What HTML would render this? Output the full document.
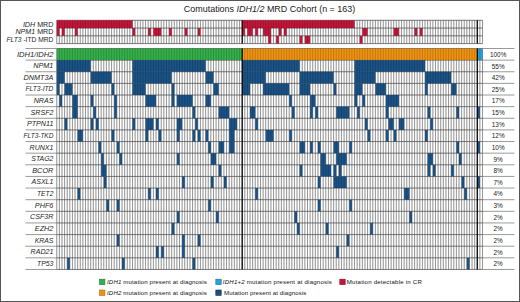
<!DOCTYPE html>
<html><head><meta charset="utf-8"><style>
html,body{margin:0;padding:0;background:#fff;}
body{width:520px;height:302px;overflow:hidden;}
svg{display:block;font-family:"Liberation Sans",sans-serif;}
</style></head><body>
<svg width="520" height="302" viewBox="0 0 520 302">
<rect x="0" y="0" width="520" height="302" fill="#fff"/>
<path d="M56.750 20.300V43.610M56.750 48.500V269.470M59.362 20.300V43.610M59.362 48.500V269.470M61.974 20.300V43.610M61.974 48.500V269.470M64.586 20.300V43.610M64.586 48.500V269.470M67.198 20.300V43.610M67.198 48.500V269.470M69.810 20.300V43.610M69.810 48.500V269.470M72.422 20.300V43.610M72.422 48.500V269.470M75.034 20.300V43.610M75.034 48.500V269.470M77.646 20.300V43.610M77.646 48.500V269.470M80.258 20.300V43.610M80.258 48.500V269.470M82.870 20.300V43.610M82.870 48.500V269.470M85.482 20.300V43.610M85.482 48.500V269.470M88.094 20.300V43.610M88.094 48.500V269.470M90.706 20.300V43.610M90.706 48.500V269.470M93.318 20.300V43.610M93.318 48.500V269.470M95.930 20.300V43.610M95.930 48.500V269.470M98.542 20.300V43.610M98.542 48.500V269.470M101.154 20.300V43.610M101.154 48.500V269.470M103.766 20.300V43.610M103.766 48.500V269.470M106.378 20.300V43.610M106.378 48.500V269.470M108.990 20.300V43.610M108.990 48.500V269.470M111.602 20.300V43.610M111.602 48.500V269.470M114.214 20.300V43.610M114.214 48.500V269.470M116.826 20.300V43.610M116.826 48.500V269.470M119.438 20.300V43.610M119.438 48.500V269.470M122.050 20.300V43.610M122.050 48.500V269.470M124.662 20.300V43.610M124.662 48.500V269.470M127.274 20.300V43.610M127.274 48.500V269.470M129.886 20.300V43.610M129.886 48.500V269.470M132.498 20.300V43.610M132.498 48.500V269.470M135.110 20.300V43.610M135.110 48.500V269.470M137.722 20.300V43.610M137.722 48.500V269.470M140.334 20.300V43.610M140.334 48.500V269.470M142.946 20.300V43.610M142.946 48.500V269.470M145.558 20.300V43.610M145.558 48.500V269.470M148.170 20.300V43.610M148.170 48.500V269.470M150.782 20.300V43.610M150.782 48.500V269.470M153.394 20.300V43.610M153.394 48.500V269.470M156.006 20.300V43.610M156.006 48.500V269.470M158.618 20.300V43.610M158.618 48.500V269.470M161.230 20.300V43.610M161.230 48.500V269.470M163.842 20.300V43.610M163.842 48.500V269.470M166.454 20.300V43.610M166.454 48.500V269.470M169.066 20.300V43.610M169.066 48.500V269.470M171.678 20.300V43.610M171.678 48.500V269.470M174.290 20.300V43.610M174.290 48.500V269.470M176.902 20.300V43.610M176.902 48.500V269.470M179.514 20.300V43.610M179.514 48.500V269.470M182.126 20.300V43.610M182.126 48.500V269.470M184.738 20.300V43.610M184.738 48.500V269.470M187.350 20.300V43.610M187.350 48.500V269.470M189.962 20.300V43.610M189.962 48.500V269.470M192.574 20.300V43.610M192.574 48.500V269.470M195.186 20.300V43.610M195.186 48.500V269.470M197.798 20.300V43.610M197.798 48.500V269.470M200.410 20.300V43.610M200.410 48.500V269.470M203.022 20.300V43.610M203.022 48.500V269.470M205.634 20.300V43.610M205.634 48.500V269.470M208.246 20.300V43.610M208.246 48.500V269.470M210.858 20.300V43.610M210.858 48.500V269.470M213.470 20.300V43.610M213.470 48.500V269.470M216.082 20.300V43.610M216.082 48.500V269.470M218.694 20.300V43.610M218.694 48.500V269.470M221.306 20.300V43.610M221.306 48.500V269.470M223.918 20.300V43.610M223.918 48.500V269.470M226.530 20.300V43.610M226.530 48.500V269.470M229.142 20.300V43.610M229.142 48.500V269.470M231.754 20.300V43.610M231.754 48.500V269.470M234.366 20.300V43.610M234.366 48.500V269.470M236.978 20.300V43.610M236.978 48.500V269.470M239.590 20.300V43.610M239.590 48.500V269.470M242.202 20.300V43.610M242.202 48.500V269.470M244.814 20.300V43.610M244.814 48.500V269.470M247.426 20.300V43.610M247.426 48.500V269.470M250.038 20.300V43.610M250.038 48.500V269.470M252.650 20.300V43.610M252.650 48.500V269.470M255.262 20.300V43.610M255.262 48.500V269.470M257.874 20.300V43.610M257.874 48.500V269.470M260.486 20.300V43.610M260.486 48.500V269.470M263.098 20.300V43.610M263.098 48.500V269.470M265.710 20.300V43.610M265.710 48.500V269.470M268.322 20.300V43.610M268.322 48.500V269.470M270.934 20.300V43.610M270.934 48.500V269.470M273.546 20.300V43.610M273.546 48.500V269.470M276.158 20.300V43.610M276.158 48.500V269.470M278.770 20.300V43.610M278.770 48.500V269.470M281.382 20.300V43.610M281.382 48.500V269.470M283.994 20.300V43.610M283.994 48.500V269.470M286.606 20.300V43.610M286.606 48.500V269.470M289.218 20.300V43.610M289.218 48.500V269.470M291.830 20.300V43.610M291.830 48.500V269.470M294.442 20.300V43.610M294.442 48.500V269.470M297.054 20.300V43.610M297.054 48.500V269.470M299.666 20.300V43.610M299.666 48.500V269.470M302.278 20.300V43.610M302.278 48.500V269.470M304.890 20.300V43.610M304.890 48.500V269.470M307.502 20.300V43.610M307.502 48.500V269.470M310.114 20.300V43.610M310.114 48.500V269.470M312.726 20.300V43.610M312.726 48.500V269.470M315.338 20.300V43.610M315.338 48.500V269.470M317.950 20.300V43.610M317.950 48.500V269.470M320.562 20.300V43.610M320.562 48.500V269.470M323.174 20.300V43.610M323.174 48.500V269.470M325.786 20.300V43.610M325.786 48.500V269.470M328.398 20.300V43.610M328.398 48.500V269.470M331.010 20.300V43.610M331.010 48.500V269.470M333.622 20.300V43.610M333.622 48.500V269.470M336.234 20.300V43.610M336.234 48.500V269.470M338.846 20.300V43.610M338.846 48.500V269.470M341.458 20.300V43.610M341.458 48.500V269.470M344.070 20.300V43.610M344.070 48.500V269.470M346.682 20.300V43.610M346.682 48.500V269.470M349.294 20.300V43.610M349.294 48.500V269.470M351.906 20.300V43.610M351.906 48.500V269.470M354.518 20.300V43.610M354.518 48.500V269.470M357.130 20.300V43.610M357.130 48.500V269.470M359.742 20.300V43.610M359.742 48.500V269.470M362.354 20.300V43.610M362.354 48.500V269.470M364.966 20.300V43.610M364.966 48.500V269.470M367.578 20.300V43.610M367.578 48.500V269.470M370.190 20.300V43.610M370.190 48.500V269.470M372.802 20.300V43.610M372.802 48.500V269.470M375.414 20.300V43.610M375.414 48.500V269.470M378.026 20.300V43.610M378.026 48.500V269.470M380.638 20.300V43.610M380.638 48.500V269.470M383.250 20.300V43.610M383.250 48.500V269.470M385.862 20.300V43.610M385.862 48.500V269.470M388.474 20.300V43.610M388.474 48.500V269.470M391.086 20.300V43.610M391.086 48.500V269.470M393.698 20.300V43.610M393.698 48.500V269.470M396.310 20.300V43.610M396.310 48.500V269.470M398.922 20.300V43.610M398.922 48.500V269.470M401.534 20.300V43.610M401.534 48.500V269.470M404.146 20.300V43.610M404.146 48.500V269.470M406.758 20.300V43.610M406.758 48.500V269.470M409.370 20.300V43.610M409.370 48.500V269.470M411.982 20.300V43.610M411.982 48.500V269.470M414.594 20.300V43.610M414.594 48.500V269.470M417.206 20.300V43.610M417.206 48.500V269.470M419.818 20.300V43.610M419.818 48.500V269.470M422.430 20.300V43.610M422.430 48.500V269.470M425.042 20.300V43.610M425.042 48.500V269.470M427.654 20.300V43.610M427.654 48.500V269.470M430.266 20.300V43.610M430.266 48.500V269.470M432.878 20.300V43.610M432.878 48.500V269.470M435.490 20.300V43.610M435.490 48.500V269.470M438.102 20.300V43.610M438.102 48.500V269.470M440.714 20.300V43.610M440.714 48.500V269.470M443.326 20.300V43.610M443.326 48.500V269.470M445.938 20.300V43.610M445.938 48.500V269.470M448.550 20.300V43.610M448.550 48.500V269.470M451.162 20.300V43.610M451.162 48.500V269.470M453.774 20.300V43.610M453.774 48.500V269.470M456.386 20.300V43.610M456.386 48.500V269.470M458.998 20.300V43.610M458.998 48.500V269.470M461.610 20.300V43.610M461.610 48.500V269.470M464.222 20.300V43.610M464.222 48.500V269.470M466.834 20.300V43.610M466.834 48.500V269.470M469.446 20.300V43.610M469.446 48.500V269.470M472.058 20.300V43.610M472.058 48.500V269.470M474.670 20.300V43.610M474.670 48.500V269.470M477.282 20.300V43.610M477.282 48.500V269.470M479.894 20.300V43.610M479.894 48.500V269.470M482.506 20.300V43.610M482.506 48.500V269.470" stroke="#a0a0a0" stroke-width="0.75" fill="none"/>
<path d="M56.750 20.300H482.506M56.750 28.070H482.506M56.750 35.840H482.506M56.750 43.610H482.506M56.750 48.500H482.506M56.750 60.130H482.506M56.750 71.760H482.506M56.750 83.390H482.506M56.750 95.020H482.506M56.750 106.650H482.506M56.750 118.280H482.506M56.750 129.910H482.506M56.750 141.540H482.506M56.750 153.170H482.506M56.750 164.800H482.506M56.750 176.430H482.506M56.750 188.060H482.506M56.750 199.690H482.506M56.750 211.320H482.506M56.750 222.950H482.506M56.750 234.580H482.506M56.750 246.210H482.506M56.750 257.840H482.506M56.750 269.470H482.506" stroke="#727272" stroke-width="0.8" fill="none"/>
<rect x="56.750" y="20.300" width="75.748" height="7.770" fill="#c4163a"/>
<rect x="242.202" y="20.300" width="112.316" height="7.770" fill="#c4163a"/>
<rect x="56.750" y="28.070" width="2.612" height="7.770" fill="#c4163a"/>
<rect x="61.974" y="28.070" width="2.612" height="7.770" fill="#c4163a"/>
<rect x="75.034" y="28.070" width="2.612" height="7.770" fill="#c4163a"/>
<rect x="132.498" y="28.070" width="2.612" height="7.770" fill="#c4163a"/>
<rect x="148.170" y="28.070" width="2.612" height="7.770" fill="#c4163a"/>
<rect x="153.394" y="28.070" width="7.836" height="7.770" fill="#c4163a"/>
<rect x="169.066" y="28.070" width="2.612" height="7.770" fill="#c4163a"/>
<rect x="184.738" y="28.070" width="2.612" height="7.770" fill="#c4163a"/>
<rect x="197.798" y="28.070" width="2.612" height="7.770" fill="#c4163a"/>
<rect x="242.202" y="28.070" width="2.612" height="7.770" fill="#c4163a"/>
<rect x="247.426" y="28.070" width="5.224" height="7.770" fill="#c4163a"/>
<rect x="255.262" y="28.070" width="2.612" height="7.770" fill="#c4163a"/>
<rect x="263.098" y="28.070" width="7.836" height="7.770" fill="#c4163a"/>
<rect x="278.770" y="28.070" width="2.612" height="7.770" fill="#c4163a"/>
<rect x="283.994" y="28.070" width="2.612" height="7.770" fill="#c4163a"/>
<rect x="362.354" y="28.070" width="5.224" height="7.770" fill="#c4163a"/>
<rect x="393.698" y="28.070" width="5.224" height="7.770" fill="#c4163a"/>
<rect x="414.594" y="28.070" width="2.612" height="7.770" fill="#c4163a"/>
<rect x="419.818" y="28.070" width="2.612" height="7.770" fill="#c4163a"/>
<rect x="268.322" y="35.840" width="2.612" height="7.770" fill="#c4163a"/>
<rect x="276.158" y="35.840" width="2.612" height="7.770" fill="#c4163a"/>
<rect x="299.666" y="35.840" width="2.612" height="7.770" fill="#c4163a"/>
<rect x="304.890" y="35.840" width="5.224" height="7.770" fill="#c4163a"/>
<rect x="359.742" y="35.840" width="2.612" height="7.770" fill="#c4163a"/>
<rect x="56.750" y="48.500" width="185.452" height="11.630" fill="#36b04b"/>
<rect x="242.202" y="48.500" width="235.080" height="11.630" fill="#f09313"/>
<rect x="477.282" y="48.500" width="5.224" height="11.630" fill="#2a9fd8"/>
<rect x="56.750" y="60.130" width="33.956" height="11.630" fill="#1b5387"/>
<rect x="132.498" y="60.130" width="73.136" height="11.630" fill="#1b5387"/>
<rect x="242.202" y="60.130" width="57.464" height="11.630" fill="#1b5387"/>
<rect x="354.518" y="60.130" width="70.524" height="11.630" fill="#1b5387"/>
<rect x="56.750" y="71.760" width="7.836" height="11.630" fill="#1b5387"/>
<rect x="90.706" y="71.760" width="20.896" height="11.630" fill="#1b5387"/>
<rect x="132.498" y="71.760" width="39.180" height="11.630" fill="#1b5387"/>
<rect x="205.634" y="71.760" width="7.836" height="11.630" fill="#1b5387"/>
<rect x="242.202" y="71.760" width="23.508" height="11.630" fill="#1b5387"/>
<rect x="299.666" y="71.760" width="33.956" height="11.630" fill="#1b5387"/>
<rect x="354.518" y="71.760" width="20.896" height="11.630" fill="#1b5387"/>
<rect x="425.042" y="71.760" width="26.120" height="11.630" fill="#1b5387"/>
<rect x="56.750" y="83.390" width="2.612" height="11.630" fill="#1b5387"/>
<rect x="64.586" y="83.390" width="7.836" height="11.630" fill="#1b5387"/>
<rect x="111.602" y="83.390" width="2.612" height="11.630" fill="#1b5387"/>
<rect x="132.498" y="83.390" width="13.060" height="11.630" fill="#1b5387"/>
<rect x="171.678" y="83.390" width="2.612" height="11.630" fill="#1b5387"/>
<rect x="213.470" y="83.390" width="5.224" height="11.630" fill="#1b5387"/>
<rect x="242.202" y="83.390" width="7.836" height="11.630" fill="#1b5387"/>
<rect x="263.098" y="83.390" width="26.120" height="11.630" fill="#1b5387"/>
<rect x="299.666" y="83.390" width="10.448" height="11.630" fill="#1b5387"/>
<rect x="333.622" y="83.390" width="2.612" height="11.630" fill="#1b5387"/>
<rect x="354.518" y="83.390" width="7.836" height="11.630" fill="#1b5387"/>
<rect x="375.414" y="83.390" width="10.448" height="11.630" fill="#1b5387"/>
<rect x="425.042" y="83.390" width="2.612" height="11.630" fill="#1b5387"/>
<rect x="451.162" y="83.390" width="5.224" height="11.630" fill="#1b5387"/>
<rect x="59.362" y="95.020" width="2.612" height="11.630" fill="#1b5387"/>
<rect x="72.422" y="95.020" width="5.224" height="11.630" fill="#1b5387"/>
<rect x="90.706" y="95.020" width="2.612" height="11.630" fill="#1b5387"/>
<rect x="114.214" y="95.020" width="2.612" height="11.630" fill="#1b5387"/>
<rect x="145.558" y="95.020" width="10.448" height="11.630" fill="#1b5387"/>
<rect x="171.678" y="95.020" width="2.612" height="11.630" fill="#1b5387"/>
<rect x="176.902" y="95.020" width="15.672" height="11.630" fill="#1b5387"/>
<rect x="205.634" y="95.020" width="5.224" height="11.630" fill="#1b5387"/>
<rect x="289.218" y="95.020" width="2.612" height="11.630" fill="#1b5387"/>
<rect x="310.114" y="95.020" width="5.224" height="11.630" fill="#1b5387"/>
<rect x="354.518" y="95.020" width="2.612" height="11.630" fill="#1b5387"/>
<rect x="362.354" y="95.020" width="2.612" height="11.630" fill="#1b5387"/>
<rect x="385.862" y="95.020" width="13.060" height="11.630" fill="#1b5387"/>
<rect x="72.422" y="106.650" width="5.224" height="11.630" fill="#1b5387"/>
<rect x="93.318" y="106.650" width="2.612" height="11.630" fill="#1b5387"/>
<rect x="114.214" y="106.650" width="2.612" height="11.630" fill="#1b5387"/>
<rect x="192.574" y="106.650" width="2.612" height="11.630" fill="#1b5387"/>
<rect x="218.694" y="106.650" width="10.448" height="11.630" fill="#1b5387"/>
<rect x="250.038" y="106.650" width="5.224" height="11.630" fill="#1b5387"/>
<rect x="291.830" y="106.650" width="2.612" height="11.630" fill="#1b5387"/>
<rect x="310.114" y="106.650" width="2.612" height="11.630" fill="#1b5387"/>
<rect x="315.338" y="106.650" width="2.612" height="11.630" fill="#1b5387"/>
<rect x="336.234" y="106.650" width="13.060" height="11.630" fill="#1b5387"/>
<rect x="357.130" y="106.650" width="2.612" height="11.630" fill="#1b5387"/>
<rect x="385.862" y="106.650" width="2.612" height="11.630" fill="#1b5387"/>
<rect x="427.654" y="106.650" width="2.612" height="11.630" fill="#1b5387"/>
<rect x="456.386" y="106.650" width="2.612" height="11.630" fill="#1b5387"/>
<rect x="477.282" y="106.650" width="2.612" height="11.630" fill="#1b5387"/>
<rect x="64.586" y="118.280" width="2.612" height="11.630" fill="#1b5387"/>
<rect x="90.706" y="118.280" width="2.612" height="11.630" fill="#1b5387"/>
<rect x="95.930" y="118.280" width="2.612" height="11.630" fill="#1b5387"/>
<rect x="132.498" y="118.280" width="2.612" height="11.630" fill="#1b5387"/>
<rect x="145.558" y="118.280" width="7.836" height="11.630" fill="#1b5387"/>
<rect x="156.006" y="118.280" width="2.612" height="11.630" fill="#1b5387"/>
<rect x="176.902" y="118.280" width="5.224" height="11.630" fill="#1b5387"/>
<rect x="195.186" y="118.280" width="2.612" height="11.630" fill="#1b5387"/>
<rect x="229.142" y="118.280" width="7.836" height="11.630" fill="#1b5387"/>
<rect x="255.262" y="118.280" width="2.612" height="11.630" fill="#1b5387"/>
<rect x="364.966" y="118.280" width="2.612" height="11.630" fill="#1b5387"/>
<rect x="388.474" y="118.280" width="5.224" height="11.630" fill="#1b5387"/>
<rect x="398.922" y="118.280" width="5.224" height="11.630" fill="#1b5387"/>
<rect x="430.266" y="118.280" width="2.612" height="11.630" fill="#1b5387"/>
<rect x="77.646" y="129.910" width="5.224" height="11.630" fill="#1b5387"/>
<rect x="111.602" y="129.910" width="2.612" height="11.630" fill="#1b5387"/>
<rect x="145.558" y="129.910" width="2.612" height="11.630" fill="#1b5387"/>
<rect x="158.618" y="129.910" width="2.612" height="11.630" fill="#1b5387"/>
<rect x="176.902" y="129.910" width="2.612" height="11.630" fill="#1b5387"/>
<rect x="192.574" y="129.910" width="2.612" height="11.630" fill="#1b5387"/>
<rect x="197.798" y="129.910" width="2.612" height="11.630" fill="#1b5387"/>
<rect x="205.634" y="129.910" width="2.612" height="11.630" fill="#1b5387"/>
<rect x="229.142" y="129.910" width="5.224" height="11.630" fill="#1b5387"/>
<rect x="265.710" y="129.910" width="7.836" height="11.630" fill="#1b5387"/>
<rect x="289.218" y="129.910" width="2.612" height="11.630" fill="#1b5387"/>
<rect x="367.578" y="129.910" width="2.612" height="11.630" fill="#1b5387"/>
<rect x="385.862" y="129.910" width="2.612" height="11.630" fill="#1b5387"/>
<rect x="393.698" y="129.910" width="2.612" height="11.630" fill="#1b5387"/>
<rect x="425.042" y="129.910" width="2.612" height="11.630" fill="#1b5387"/>
<rect x="98.542" y="141.540" width="2.612" height="11.630" fill="#1b5387"/>
<rect x="116.826" y="141.540" width="2.612" height="11.630" fill="#1b5387"/>
<rect x="208.246" y="141.540" width="2.612" height="11.630" fill="#1b5387"/>
<rect x="218.694" y="141.540" width="5.224" height="11.630" fill="#1b5387"/>
<rect x="229.142" y="141.540" width="5.224" height="11.630" fill="#1b5387"/>
<rect x="299.666" y="141.540" width="5.224" height="11.630" fill="#1b5387"/>
<rect x="310.114" y="141.540" width="2.612" height="11.630" fill="#1b5387"/>
<rect x="317.950" y="141.540" width="2.612" height="11.630" fill="#1b5387"/>
<rect x="333.622" y="141.540" width="5.224" height="11.630" fill="#1b5387"/>
<rect x="349.294" y="141.540" width="2.612" height="11.630" fill="#1b5387"/>
<rect x="456.386" y="141.540" width="2.612" height="11.630" fill="#1b5387"/>
<rect x="477.282" y="141.540" width="2.612" height="11.630" fill="#1b5387"/>
<rect x="101.154" y="153.170" width="2.612" height="11.630" fill="#1b5387"/>
<rect x="119.438" y="153.170" width="2.612" height="11.630" fill="#1b5387"/>
<rect x="176.902" y="153.170" width="2.612" height="11.630" fill="#1b5387"/>
<rect x="210.858" y="153.170" width="5.224" height="11.630" fill="#1b5387"/>
<rect x="320.562" y="153.170" width="5.224" height="11.630" fill="#1b5387"/>
<rect x="336.234" y="153.170" width="10.448" height="11.630" fill="#1b5387"/>
<rect x="427.654" y="153.170" width="5.224" height="11.630" fill="#1b5387"/>
<rect x="458.998" y="153.170" width="2.612" height="11.630" fill="#1b5387"/>
<rect x="101.154" y="164.800" width="5.224" height="11.630" fill="#1b5387"/>
<rect x="218.694" y="164.800" width="2.612" height="11.630" fill="#1b5387"/>
<rect x="299.666" y="164.800" width="2.612" height="11.630" fill="#1b5387"/>
<rect x="320.562" y="164.800" width="10.448" height="11.630" fill="#1b5387"/>
<rect x="333.622" y="164.800" width="2.612" height="11.630" fill="#1b5387"/>
<rect x="338.846" y="164.800" width="2.612" height="11.630" fill="#1b5387"/>
<rect x="427.654" y="164.800" width="2.612" height="11.630" fill="#1b5387"/>
<rect x="432.878" y="164.800" width="2.612" height="11.630" fill="#1b5387"/>
<rect x="451.162" y="164.800" width="2.612" height="11.630" fill="#1b5387"/>
<rect x="103.766" y="176.430" width="2.612" height="11.630" fill="#1b5387"/>
<rect x="182.126" y="176.430" width="2.612" height="11.630" fill="#1b5387"/>
<rect x="210.858" y="176.430" width="2.612" height="11.630" fill="#1b5387"/>
<rect x="223.918" y="176.430" width="2.612" height="11.630" fill="#1b5387"/>
<rect x="317.950" y="176.430" width="2.612" height="11.630" fill="#1b5387"/>
<rect x="333.622" y="176.430" width="13.060" height="11.630" fill="#1b5387"/>
<rect x="461.610" y="176.430" width="2.612" height="11.630" fill="#1b5387"/>
<rect x="477.282" y="176.430" width="2.612" height="11.630" fill="#1b5387"/>
<rect x="77.646" y="188.060" width="2.612" height="11.630" fill="#1b5387"/>
<rect x="148.170" y="188.060" width="2.612" height="11.630" fill="#1b5387"/>
<rect x="156.006" y="188.060" width="2.612" height="11.630" fill="#1b5387"/>
<rect x="255.262" y="188.060" width="2.612" height="11.630" fill="#1b5387"/>
<rect x="404.146" y="188.060" width="5.224" height="11.630" fill="#1b5387"/>
<rect x="464.222" y="188.060" width="2.612" height="11.630" fill="#1b5387"/>
<rect x="106.378" y="199.690" width="2.612" height="11.630" fill="#1b5387"/>
<rect x="116.826" y="199.690" width="2.612" height="11.630" fill="#1b5387"/>
<rect x="208.246" y="199.690" width="2.612" height="11.630" fill="#1b5387"/>
<rect x="317.950" y="199.690" width="2.612" height="11.630" fill="#1b5387"/>
<rect x="349.294" y="199.690" width="2.612" height="11.630" fill="#1b5387"/>
<rect x="176.902" y="211.320" width="2.612" height="11.630" fill="#1b5387"/>
<rect x="216.082" y="211.320" width="2.612" height="11.630" fill="#1b5387"/>
<rect x="294.442" y="211.320" width="2.612" height="11.630" fill="#1b5387"/>
<rect x="409.370" y="211.320" width="2.612" height="11.630" fill="#1b5387"/>
<rect x="171.678" y="222.950" width="2.612" height="11.630" fill="#1b5387"/>
<rect x="297.054" y="222.950" width="2.612" height="11.630" fill="#1b5387"/>
<rect x="325.786" y="222.950" width="2.612" height="11.630" fill="#1b5387"/>
<rect x="370.190" y="222.950" width="2.612" height="11.630" fill="#1b5387"/>
<rect x="116.826" y="234.580" width="2.612" height="11.630" fill="#1b5387"/>
<rect x="182.126" y="234.580" width="2.612" height="11.630" fill="#1b5387"/>
<rect x="197.798" y="234.580" width="2.612" height="11.630" fill="#1b5387"/>
<rect x="346.682" y="234.580" width="2.612" height="11.630" fill="#1b5387"/>
<rect x="156.006" y="246.210" width="2.612" height="11.630" fill="#1b5387"/>
<rect x="161.230" y="246.210" width="2.612" height="11.630" fill="#1b5387"/>
<rect x="182.126" y="246.210" width="2.612" height="11.630" fill="#1b5387"/>
<rect x="336.234" y="246.210" width="2.612" height="11.630" fill="#1b5387"/>
<rect x="67.198" y="257.840" width="2.612" height="11.630" fill="#1b5387"/>
<rect x="122.050" y="257.840" width="2.612" height="11.630" fill="#1b5387"/>
<rect x="192.574" y="257.840" width="2.612" height="11.630" fill="#1b5387"/>
<rect x="466.834" y="257.840" width="2.612" height="11.630" fill="#1b5387"/>
<path d="M56.750 20.300V43.610M56.750 48.500V269.470M59.362 20.300V43.610M59.362 48.500V269.470M61.974 20.300V43.610M61.974 48.500V269.470M64.586 20.300V43.610M64.586 48.500V269.470M67.198 20.300V43.610M67.198 48.500V269.470M69.810 20.300V43.610M69.810 48.500V269.470M72.422 20.300V43.610M72.422 48.500V269.470M75.034 20.300V43.610M75.034 48.500V269.470M77.646 20.300V43.610M77.646 48.500V269.470M80.258 20.300V43.610M80.258 48.500V269.470M82.870 20.300V43.610M82.870 48.500V269.470M85.482 20.300V43.610M85.482 48.500V269.470M88.094 20.300V43.610M88.094 48.500V269.470M90.706 20.300V43.610M90.706 48.500V269.470M93.318 20.300V43.610M93.318 48.500V269.470M95.930 20.300V43.610M95.930 48.500V269.470M98.542 20.300V43.610M98.542 48.500V269.470M101.154 20.300V43.610M101.154 48.500V269.470M103.766 20.300V43.610M103.766 48.500V269.470M106.378 20.300V43.610M106.378 48.500V269.470M108.990 20.300V43.610M108.990 48.500V269.470M111.602 20.300V43.610M111.602 48.500V269.470M114.214 20.300V43.610M114.214 48.500V269.470M116.826 20.300V43.610M116.826 48.500V269.470M119.438 20.300V43.610M119.438 48.500V269.470M122.050 20.300V43.610M122.050 48.500V269.470M124.662 20.300V43.610M124.662 48.500V269.470M127.274 20.300V43.610M127.274 48.500V269.470M129.886 20.300V43.610M129.886 48.500V269.470M132.498 20.300V43.610M132.498 48.500V269.470M135.110 20.300V43.610M135.110 48.500V269.470M137.722 20.300V43.610M137.722 48.500V269.470M140.334 20.300V43.610M140.334 48.500V269.470M142.946 20.300V43.610M142.946 48.500V269.470M145.558 20.300V43.610M145.558 48.500V269.470M148.170 20.300V43.610M148.170 48.500V269.470M150.782 20.300V43.610M150.782 48.500V269.470M153.394 20.300V43.610M153.394 48.500V269.470M156.006 20.300V43.610M156.006 48.500V269.470M158.618 20.300V43.610M158.618 48.500V269.470M161.230 20.300V43.610M161.230 48.500V269.470M163.842 20.300V43.610M163.842 48.500V269.470M166.454 20.300V43.610M166.454 48.500V269.470M169.066 20.300V43.610M169.066 48.500V269.470M171.678 20.300V43.610M171.678 48.500V269.470M174.290 20.300V43.610M174.290 48.500V269.470M176.902 20.300V43.610M176.902 48.500V269.470M179.514 20.300V43.610M179.514 48.500V269.470M182.126 20.300V43.610M182.126 48.500V269.470M184.738 20.300V43.610M184.738 48.500V269.470M187.350 20.300V43.610M187.350 48.500V269.470M189.962 20.300V43.610M189.962 48.500V269.470M192.574 20.300V43.610M192.574 48.500V269.470M195.186 20.300V43.610M195.186 48.500V269.470M197.798 20.300V43.610M197.798 48.500V269.470M200.410 20.300V43.610M200.410 48.500V269.470M203.022 20.300V43.610M203.022 48.500V269.470M205.634 20.300V43.610M205.634 48.500V269.470M208.246 20.300V43.610M208.246 48.500V269.470M210.858 20.300V43.610M210.858 48.500V269.470M213.470 20.300V43.610M213.470 48.500V269.470M216.082 20.300V43.610M216.082 48.500V269.470M218.694 20.300V43.610M218.694 48.500V269.470M221.306 20.300V43.610M221.306 48.500V269.470M223.918 20.300V43.610M223.918 48.500V269.470M226.530 20.300V43.610M226.530 48.500V269.470M229.142 20.300V43.610M229.142 48.500V269.470M231.754 20.300V43.610M231.754 48.500V269.470M234.366 20.300V43.610M234.366 48.500V269.470M236.978 20.300V43.610M236.978 48.500V269.470M239.590 20.300V43.610M239.590 48.500V269.470M242.202 20.300V43.610M242.202 48.500V269.470M244.814 20.300V43.610M244.814 48.500V269.470M247.426 20.300V43.610M247.426 48.500V269.470M250.038 20.300V43.610M250.038 48.500V269.470M252.650 20.300V43.610M252.650 48.500V269.470M255.262 20.300V43.610M255.262 48.500V269.470M257.874 20.300V43.610M257.874 48.500V269.470M260.486 20.300V43.610M260.486 48.500V269.470M263.098 20.300V43.610M263.098 48.500V269.470M265.710 20.300V43.610M265.710 48.500V269.470M268.322 20.300V43.610M268.322 48.500V269.470M270.934 20.300V43.610M270.934 48.500V269.470M273.546 20.300V43.610M273.546 48.500V269.470M276.158 20.300V43.610M276.158 48.500V269.470M278.770 20.300V43.610M278.770 48.500V269.470M281.382 20.300V43.610M281.382 48.500V269.470M283.994 20.300V43.610M283.994 48.500V269.470M286.606 20.300V43.610M286.606 48.500V269.470M289.218 20.300V43.610M289.218 48.500V269.470M291.830 20.300V43.610M291.830 48.500V269.470M294.442 20.300V43.610M294.442 48.500V269.470M297.054 20.300V43.610M297.054 48.500V269.470M299.666 20.300V43.610M299.666 48.500V269.470M302.278 20.300V43.610M302.278 48.500V269.470M304.890 20.300V43.610M304.890 48.500V269.470M307.502 20.300V43.610M307.502 48.500V269.470M310.114 20.300V43.610M310.114 48.500V269.470M312.726 20.300V43.610M312.726 48.500V269.470M315.338 20.300V43.610M315.338 48.500V269.470M317.950 20.300V43.610M317.950 48.500V269.470M320.562 20.300V43.610M320.562 48.500V269.470M323.174 20.300V43.610M323.174 48.500V269.470M325.786 20.300V43.610M325.786 48.500V269.470M328.398 20.300V43.610M328.398 48.500V269.470M331.010 20.300V43.610M331.010 48.500V269.470M333.622 20.300V43.610M333.622 48.500V269.470M336.234 20.300V43.610M336.234 48.500V269.470M338.846 20.300V43.610M338.846 48.500V269.470M341.458 20.300V43.610M341.458 48.500V269.470M344.070 20.300V43.610M344.070 48.500V269.470M346.682 20.300V43.610M346.682 48.500V269.470M349.294 20.300V43.610M349.294 48.500V269.470M351.906 20.300V43.610M351.906 48.500V269.470M354.518 20.300V43.610M354.518 48.500V269.470M357.130 20.300V43.610M357.130 48.500V269.470M359.742 20.300V43.610M359.742 48.500V269.470M362.354 20.300V43.610M362.354 48.500V269.470M364.966 20.300V43.610M364.966 48.500V269.470M367.578 20.300V43.610M367.578 48.500V269.470M370.190 20.300V43.610M370.190 48.500V269.470M372.802 20.300V43.610M372.802 48.500V269.470M375.414 20.300V43.610M375.414 48.500V269.470M378.026 20.300V43.610M378.026 48.500V269.470M380.638 20.300V43.610M380.638 48.500V269.470M383.250 20.300V43.610M383.250 48.500V269.470M385.862 20.300V43.610M385.862 48.500V269.470M388.474 20.300V43.610M388.474 48.500V269.470M391.086 20.300V43.610M391.086 48.500V269.470M393.698 20.300V43.610M393.698 48.500V269.470M396.310 20.300V43.610M396.310 48.500V269.470M398.922 20.300V43.610M398.922 48.500V269.470M401.534 20.300V43.610M401.534 48.500V269.470M404.146 20.300V43.610M404.146 48.500V269.470M406.758 20.300V43.610M406.758 48.500V269.470M409.370 20.300V43.610M409.370 48.500V269.470M411.982 20.300V43.610M411.982 48.500V269.470M414.594 20.300V43.610M414.594 48.500V269.470M417.206 20.300V43.610M417.206 48.500V269.470M419.818 20.300V43.610M419.818 48.500V269.470M422.430 20.300V43.610M422.430 48.500V269.470M425.042 20.300V43.610M425.042 48.500V269.470M427.654 20.300V43.610M427.654 48.500V269.470M430.266 20.300V43.610M430.266 48.500V269.470M432.878 20.300V43.610M432.878 48.500V269.470M435.490 20.300V43.610M435.490 48.500V269.470M438.102 20.300V43.610M438.102 48.500V269.470M440.714 20.300V43.610M440.714 48.500V269.470M443.326 20.300V43.610M443.326 48.500V269.470M445.938 20.300V43.610M445.938 48.500V269.470M448.550 20.300V43.610M448.550 48.500V269.470M451.162 20.300V43.610M451.162 48.500V269.470M453.774 20.300V43.610M453.774 48.500V269.470M456.386 20.300V43.610M456.386 48.500V269.470M458.998 20.300V43.610M458.998 48.500V269.470M461.610 20.300V43.610M461.610 48.500V269.470M464.222 20.300V43.610M464.222 48.500V269.470M466.834 20.300V43.610M466.834 48.500V269.470M469.446 20.300V43.610M469.446 48.500V269.470M472.058 20.300V43.610M472.058 48.500V269.470M474.670 20.300V43.610M474.670 48.500V269.470M477.282 20.300V43.610M477.282 48.500V269.470M479.894 20.300V43.610M479.894 48.500V269.470M482.506 20.300V43.610M482.506 48.500V269.470" stroke="rgba(0,0,0,0.25)" stroke-width="0.75" fill="none"/>
<path d="M56.750 20.300H482.506M56.750 28.070H482.506M56.750 35.840H482.506M56.750 43.610H482.506M56.750 48.500H482.506M56.750 60.130H482.506M56.750 71.760H482.506M56.750 83.390H482.506M56.750 95.020H482.506M56.750 106.650H482.506M56.750 118.280H482.506M56.750 129.910H482.506M56.750 141.540H482.506M56.750 153.170H482.506M56.750 164.800H482.506M56.750 176.430H482.506M56.750 188.060H482.506M56.750 199.690H482.506M56.750 211.320H482.506M56.750 222.950H482.506M56.750 234.580H482.506M56.750 246.210H482.506M56.750 257.840H482.506M56.750 269.470H482.506" stroke="rgba(0,0,0,0.15)" stroke-width="0.8" fill="none"/>
<path d="M25.5 48.500H56.750M482.506 48.500H514.4M25.5 60.130H56.750M482.506 60.130H514.4M25.5 71.760H56.750M482.506 71.760H514.4M25.5 83.390H56.750M482.506 83.390H514.4M25.5 95.020H56.750M482.506 95.020H514.4M25.5 106.650H56.750M482.506 106.650H514.4M25.5 118.280H56.750M482.506 118.280H514.4M25.5 129.910H56.750M482.506 129.910H514.4M25.5 141.540H56.750M482.506 141.540H514.4M25.5 153.170H56.750M482.506 153.170H514.4M25.5 164.800H56.750M482.506 164.800H514.4M25.5 176.430H56.750M482.506 176.430H514.4M25.5 188.060H56.750M482.506 188.060H514.4M25.5 199.690H56.750M482.506 199.690H514.4M25.5 211.320H56.750M482.506 211.320H514.4M25.5 222.950H56.750M482.506 222.950H514.4M25.5 234.580H56.750M482.506 234.580H514.4M25.5 246.210H56.750M482.506 246.210H514.4M25.5 257.840H56.750M482.506 257.840H514.4M25.5 269.470H56.750M482.506 269.470H514.4" stroke="#808080" stroke-width="0.8" fill="none"/>
<path d="M242.202 20.300V43.610M242.202 48.500V269.470" stroke="#000" stroke-width="1.2" fill="none"/>
<path d="M477.282 20.300V43.610M477.282 48.500V269.470" stroke="#000" stroke-width="1.2" fill="none"/>
<rect x="99.5" y="279.2" width="5.4" height="5.4" fill="#36b04b" stroke="#237a30" stroke-width="0.6"/>
<rect x="99.5" y="290.0" width="5.4" height="5.4" fill="#f09313" stroke="#b06a08" stroke-width="0.6"/>
<rect x="215.8" y="279.2" width="5.4" height="5.4" fill="#2a9fd8" stroke="#1c74a2" stroke-width="0.6"/>
<rect x="215.8" y="290.0" width="5.4" height="5.4" fill="#1d4f7c" stroke="#10304e" stroke-width="0.6"/>
<rect x="339.8" y="279.2" width="5.4" height="5.4" fill="#c4163a" stroke="#8a0e26" stroke-width="0.6"/>
<text x="183.8" y="12.3" font-size="8.96" text-anchor="start" fill="#222" >Comutations <tspan font-style="italic">IDH1/2</tspan> MRD Cohort (n = 163)</text>
<text x="22.90" y="26.69" font-size="7.4" textLength="30.50" lengthAdjust="spacingAndGlyphs" fill="#1e1e1e"><tspan font-style="italic">IDH</tspan> MRD</text>
<text x="15.40" y="34.45" font-size="7.4" textLength="38.00" lengthAdjust="spacingAndGlyphs" fill="#1e1e1e"><tspan font-style="italic">NPM1</tspan> MRD</text>
<text x="6.50" y="42.22" font-size="7.4" textLength="46.90" lengthAdjust="spacingAndGlyphs" fill="#1e1e1e"><tspan font-style="italic">FLT3</tspan> -ITD MRD</text>
<text x="16.90" y="56.52" font-size="7.4" textLength="36.50" lengthAdjust="spacingAndGlyphs" fill="#1e1e1e"><tspan font-style="italic">IDH1/IDH2</tspan></text>
<text x="498.2" y="56.91" font-size="6.4" text-anchor="middle" fill="#222" >100%</text>
<text x="33.30" y="68.14" font-size="7.4" textLength="20.10" lengthAdjust="spacingAndGlyphs" fill="#1e1e1e"><tspan font-style="italic">NPM1</tspan></text>
<text x="498.2" y="68.55" font-size="6.4" text-anchor="middle" fill="#222" >55%</text>
<text x="23.60" y="79.78" font-size="7.4" textLength="29.80" lengthAdjust="spacingAndGlyphs" fill="#1e1e1e"><tspan font-style="italic">DNMT3A</tspan></text>
<text x="498.2" y="80.18" font-size="6.4" text-anchor="middle" fill="#222" >42%</text>
<text x="25.40" y="91.41" font-size="7.4" textLength="28.00" lengthAdjust="spacingAndGlyphs" fill="#1e1e1e"><tspan font-style="italic">FLT3-ITD</tspan></text>
<text x="498.2" y="91.81" font-size="6.4" text-anchor="middle" fill="#222" >25%</text>
<text x="33.70" y="103.04" font-size="7.4" textLength="19.70" lengthAdjust="spacingAndGlyphs" fill="#1e1e1e"><tspan font-style="italic">NRAS</tspan></text>
<text x="498.2" y="103.44" font-size="6.4" text-anchor="middle" fill="#222" >17%</text>
<text x="30.60" y="114.67" font-size="7.4" textLength="22.80" lengthAdjust="spacingAndGlyphs" fill="#1e1e1e"><tspan font-style="italic">SRSF2</tspan></text>
<text x="498.2" y="115.07" font-size="6.4" text-anchor="middle" fill="#222" >15%</text>
<text x="27.00" y="126.30" font-size="7.4" textLength="26.40" lengthAdjust="spacingAndGlyphs" fill="#1e1e1e"><tspan font-style="italic">PTPN11</tspan></text>
<text x="498.2" y="126.70" font-size="6.4" text-anchor="middle" fill="#222" >13%</text>
<text x="23.60" y="137.93" font-size="7.4" textLength="29.80" lengthAdjust="spacingAndGlyphs" fill="#1e1e1e"><tspan font-style="italic">FLT3-TKD</tspan></text>
<text x="498.2" y="138.33" font-size="6.4" text-anchor="middle" fill="#222" >12%</text>
<text x="29.60" y="149.56" font-size="7.4" textLength="23.80" lengthAdjust="spacingAndGlyphs" fill="#1e1e1e"><tspan font-style="italic">RUNX1</tspan></text>
<text x="498.2" y="149.96" font-size="6.4" text-anchor="middle" fill="#222" >10%</text>
<text x="31.30" y="161.19" font-size="7.4" textLength="22.10" lengthAdjust="spacingAndGlyphs" fill="#1e1e1e"><tspan font-style="italic">STAG2</tspan></text>
<text x="498.2" y="161.59" font-size="6.4" text-anchor="middle" fill="#222" >9%</text>
<text x="32.20" y="172.81" font-size="7.4" textLength="21.20" lengthAdjust="spacingAndGlyphs" fill="#1e1e1e"><tspan font-style="italic">BCOR</tspan></text>
<text x="498.2" y="173.22" font-size="6.4" text-anchor="middle" fill="#222" >8%</text>
<text x="31.50" y="184.44" font-size="7.4" textLength="21.90" lengthAdjust="spacingAndGlyphs" fill="#1e1e1e"><tspan font-style="italic">ASXL1</tspan></text>
<text x="498.2" y="184.84" font-size="6.4" text-anchor="middle" fill="#222" >7%</text>
<text x="37.00" y="196.07" font-size="7.4" textLength="16.40" lengthAdjust="spacingAndGlyphs" fill="#1e1e1e"><tspan font-style="italic">TET2</tspan></text>
<text x="498.2" y="196.47" font-size="6.4" text-anchor="middle" fill="#222" >4%</text>
<text x="34.80" y="207.71" font-size="7.4" textLength="18.60" lengthAdjust="spacingAndGlyphs" fill="#1e1e1e"><tspan font-style="italic">PHF6</tspan></text>
<text x="498.2" y="208.11" font-size="6.4" text-anchor="middle" fill="#222" >3%</text>
<text x="30.00" y="219.34" font-size="7.4" textLength="23.40" lengthAdjust="spacingAndGlyphs" fill="#1e1e1e"><tspan font-style="italic">CSF3R</tspan></text>
<text x="498.2" y="219.74" font-size="6.4" text-anchor="middle" fill="#222" >2%</text>
<text x="34.80" y="230.97" font-size="7.4" textLength="18.60" lengthAdjust="spacingAndGlyphs" fill="#1e1e1e"><tspan font-style="italic">EZH2</tspan></text>
<text x="498.2" y="231.37" font-size="6.4" text-anchor="middle" fill="#222" >2%</text>
<text x="34.80" y="242.59" font-size="7.4" textLength="18.60" lengthAdjust="spacingAndGlyphs" fill="#1e1e1e"><tspan font-style="italic">KRAS</tspan></text>
<text x="498.2" y="243.00" font-size="6.4" text-anchor="middle" fill="#222" >2%</text>
<text x="30.60" y="254.22" font-size="7.4" textLength="22.80" lengthAdjust="spacingAndGlyphs" fill="#1e1e1e"><tspan font-style="italic">RAD21</tspan></text>
<text x="498.2" y="254.62" font-size="6.4" text-anchor="middle" fill="#222" >2%</text>
<text x="37.00" y="265.85" font-size="7.4" textLength="16.40" lengthAdjust="spacingAndGlyphs" fill="#1e1e1e"><tspan font-style="italic">TP53</tspan></text>
<text x="498.2" y="266.25" font-size="6.4" text-anchor="middle" fill="#222" >2%</text>
<text x="107.0" y="283.9" font-size="6.1" textLength="99.8" lengthAdjust="spacing" fill="#111"><tspan font-style="italic">IDH1</tspan> mutation present at diagnosis</text>
<text x="107.0" y="294.8" font-size="6.1" textLength="99.8" lengthAdjust="spacing" fill="#111"><tspan font-style="italic">IDH2</tspan> mutation present at diagnosis</text>
<text x="222.8" y="283.9" font-size="6.1" textLength="109.0" lengthAdjust="spacing" fill="#111"><tspan font-style="italic">IDH1+2</tspan> mutation present at diagnosis</text>
<text x="224.0" y="294.8" font-size="6.1" textLength="82.4" lengthAdjust="spacing" fill="#111">Mutation present at diagnosis</text>
<text x="346.8" y="283.9" font-size="6.1" textLength="75.0" lengthAdjust="spacing" fill="#111">Mutation detectable in CR</text>
<rect x="0.5" y="0.5" width="519" height="301" fill="none" stroke="#555" stroke-width="1"/>
</svg>
</body></html>
